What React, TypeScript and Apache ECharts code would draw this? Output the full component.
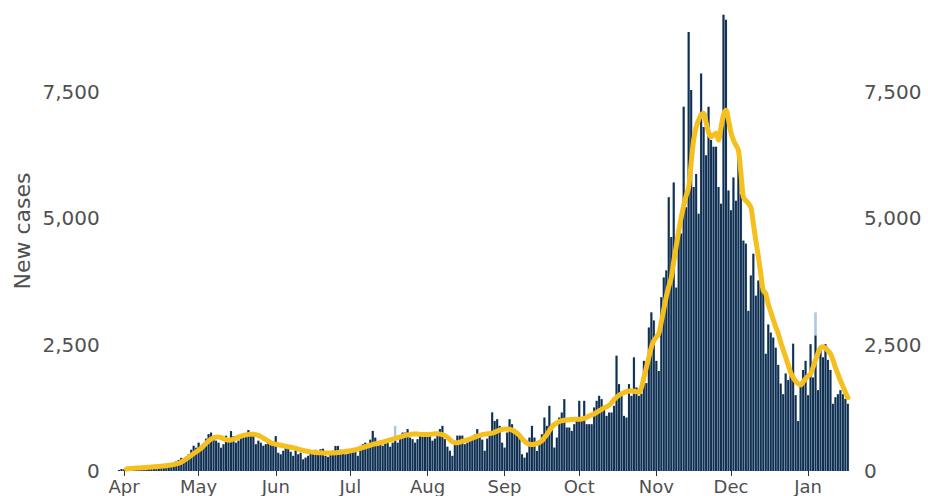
import React, { useEffect, useRef } from "react";
import * as echarts from "echarts";

// ---- categories ----
const START_DATE = "2020-03-30";
const DAY_COUNT = 294;
const monthNames = ["Jan", "Feb", "Mar", "Apr", "May", "Jun", "Jul", "Aug", "Sep", "Oct", "Nov", "Dec"];
const yTickValues = [0, 2500, 5000, 7500];

// ---- daily new cases (dark bars) ----
const casesMar = [20, 40];
const casesApr = [30, 50, 20, 40, 60, 40, 50, 60, 70, 50, 80, 90, 70, 100, 90, 110, 100, 120, 130, 110, 160, 190, 220, 260, 230, 280, 330, 420, 500, 460];
const casesMay = [560, 460, 520, 640, 730, 760, 660, 600, 560, 460, 530, 700, 620, 790, 690, 560, 600, 660, 730, 700, 810, 730, 760, 530, 600, 560, 500, 530, 620, 580, 580];
const casesJun = [690, 360, 330, 400, 520, 450, 380, 300, 420, 330, 360, 230, 264, 300, 364, 380, 420, 330, 430, 440, 300, 280, 350, 400, 496, 496, 420, 364, 330, 340];
const casesJul = [364, 397, 380, 300, 420, 530, 560, 500, 620, 794, 660, 496, 530, 500, 630, 600, 480, 560, 630, 560, 640, 760, 760, 830, 660, 630, 560, 630, 700, 690, 730];
const casesAug = [730, 700, 600, 640, 720, 830, 893, 630, 480, 400, 300, 520, 700, 700, 700, 530, 560, 600, 640, 720, 830, 700, 620, 400, 640, 760, 1160, 990, 1025, 893, 560];
const casesSep = [463, 760, 1025, 926, 827, 694, 728, 331, 264, 364, 661, 893, 661, 397, 595, 728, 1058, 893, 1290, 893, 463, 661, 1058, 1157, 1422, 860, 860, 793, 926, 1000];
const casesOct = [1389, 1025, 1389, 926, 926, 926, 1257, 1389, 1488, 1422, 1257, 1091, 1157, 1157, 1290, 2282, 1720, 1554, 1091, 1058, 1720, 1488, 2249, 1653, 1488, 1530, 2180, 1740, 2840, 3140, 2980];
const casesNov = [2180, 1980, 3440, 3830, 3970, 5420, 4630, 5710, 3630, 4820, 4700, 7210, 5220, 8690, 7540, 5620, 5880, 5090, 7870, 6810, 6250, 7210, 6550, 6420, 6420, 5620, 5290, 9030, 8930, 5550];
const casesDec = [5160, 5810, 5350, 6310, 5480, 4560, 4500, 3170, 3870, 4300, 3470, 3770, 4070, 3530, 2320, 2900, 2740, 2640, 2440, 2100, 1730, 1520, 1930, 1800, 2000, 2520, 1500, 990, 1700, 2000, 2180];
const casesJan = [1500, 2510, 1850, 2680, 1600, 2380, 2250, 2510, 2200, 2000, 1330, 1460, 1520, 1600, 1520, 1430, 1330];

// ---- days where the lighter (total) bar is taller than the dark bar ----
const lightDates = ["2020-07-19", "2021-01-04"];
const lightTotals = [893, 3140];

// ---- 7-day average (yellow line) ----
const avgMar = [null, null];
const avgApr = [null, 40, 45, 50, 55, 58, 60, 63, 66, 70, 74, 78, 82, 86, 90, 95, 100, 106, 112, 120, 130, 140, 155, 175, 205, 240, 275, 310, 345, 380];
const avgMay = [415, 450, 500, 550, 595, 630, 655, 670, 675, 660, 640, 620, 610, 615, 630, 650, 670, 690, 705, 715, 725, 727, 727, 720, 705, 680, 650, 620, 590, 560, 540];
const avgJun = [530, 520, 510, 500, 490, 480, 470, 460, 450, 435, 420, 408, 397, 387, 378, 372, 366, 362, 360, 358, 357, 356, 356, 357, 360, 365, 372, 380, 388, 396];
const avgJul = [400, 410, 420, 435, 450, 465, 480, 495, 510, 525, 540, 550, 560, 570, 585, 600, 615, 630, 645, 660, 675, 690, 705, 715, 725, 730, 730, 730, 725, 722, 720];
const avgAug = [720, 725, 730, 735, 735, 730, 720, 700, 670, 620, 580, 560, 560, 570, 590, 600, 615, 630, 650, 670, 690, 705, 720, 730, 735, 740, 750, 770, 790, 810, 820];
const avgSep = [830, 830, 825, 810, 780, 750, 700, 640, 590, 550, 530, 525, 530, 545, 565, 600, 660, 720, 800, 870, 920, 950, 980, 995, 1005, 1010, 1015, 1020, 1025, 1025];
const avgOct = [1025, 1030, 1040, 1060, 1090, 1110, 1130, 1160, 1190, 1220, 1250, 1270, 1300, 1350, 1410, 1460, 1500, 1530, 1550, 1570, 1580, 1590, 1580, 1570, 1560, 1650, 1850, 2050, 2250, 2450, 2580];
const avgNov = [2650, 2720, 2950, 3200, 3450, 3650, 3830, 4150, 4450, 4750, 5020, 5250, 5450, 5610, 6100, 6550, 6800, 6950, 7050, 7080, 6900, 6700, 6610, 6650, 6690, 6550, 6800, 7050, 7140, 6950];
const avgDec = [6700, 6550, 6450, 6350, 5900, 5420, 5350, 5300, 5220, 4900, 4560, 4250, 3900, 3570, 3510, 3300, 3150, 3000, 2850, 2720, 2550, 2400, 2250, 2100, 1950, 1850, 1780, 1730, 1700, 1760, 1830];
const avgJan = [1880, 1920, 2050, 2200, 2330, 2440, 2460, 2430, 2380, 2320, 2200, 2050, 1920, 1790, 1680, 1560, 1450];

const NAVY = "#132f4e";
const LIGHT = "#a9c6e6";
const YELLOW = "#f5bf1e";
const LABEL = "#505050";
const FONT = "DejaVu Sans";

function buildDates(): string[] {
  const [y, m, d] = START_DATE.split("-").map(Number);
  const out: string[] = [];
  for (let i = 0; i < DAY_COUNT; i++) {
    const dt = new Date(Date.UTC(y, m - 1, d + i));
    const mm = String(dt.getUTCMonth() + 1).padStart(2, "0");
    const dd = String(dt.getUTCDate()).padStart(2, "0");
    out.push(`${dt.getUTCFullYear()}-${mm}-${dd}`);
  }
  return out;
}

export default function App() {
  const ref = useRef<HTMLDivElement>(null);

  useEffect(() => {
    if (!ref.current) return;
    const chart = echarts.init(ref.current, undefined, { renderer: "svg" });

    const dates = buildDates();
    const cases = [
      ...casesMar, ...casesApr, ...casesMay, ...casesJun, ...casesJul, ...casesAug,
      ...casesSep, ...casesOct, ...casesNov, ...casesDec, ...casesJan,
    ];
    const avg = [
      ...avgMar, ...avgApr, ...avgMay, ...avgJun, ...avgJul, ...avgAug,
      ...avgSep, ...avgOct, ...avgNov, ...avgDec, ...avgJan,
    ];
    const totals = cases.map((v, i) => {
      const k = lightDates.indexOf(dates[i]);
      return k >= 0 ? Math.max(v, lightTotals[k]) : v;
    });

    const isMonthStart = (_i: number, v: string) => typeof v === "string" && v.endsWith("-01");
    const monthLabel = (v: string) => monthNames[Number(v.slice(5, 7)) - 1];
    const yFmt = (v: number) => (yTickValues.includes(v) ? v.toLocaleString("en-US") : "");

    const yCommon = {
      type: "value" as const,
      min: 0,
      max: 9200,
      interval: 2500,
      splitLine: { show: false },
      axisLine: { show: false },
      axisTick: { show: false },
    };

    chart.setOption({
      animation: false,
      backgroundColor: "#ffffff",
      grid: { left: 117.8, right: 78.9, top: 6.2, bottom: 25 },
      xAxis: [
        {
          type: "category",
          data: dates,
          boundaryGap: true,
          axisLine: { show: false },
          axisTick: {
            show: true,
            interval: isMonthStart,
            alignWithLabel: true,
            length: 5,
            lineStyle: { color: "#333333", width: 1 },
          },
          axisLabel: {
            interval: isMonthStart,
            formatter: monthLabel,
            color: LABEL,
            fontFamily: FONT,
            fontSize: 18,
            lineHeight: 18,
            margin: 6,
          },
          splitLine: { show: false },
        },
        {
          type: "category",
          data: dates,
          boundaryGap: true,
          show: false,
        },
      ],
      yAxis: [
        {
          ...yCommon,
          position: "left",
          axisLabel: { formatter: yFmt, color: LABEL, fontFamily: FONT, fontSize: 20, margin: 18 },
        },
        {
          ...yCommon,
          position: "right",
          axisLabel: { formatter: yFmt, color: LABEL, fontFamily: FONT, fontSize: 20, margin: 15 },
        },
      ],
      series: [
        {
          name: "Total",
          type: "bar",
          xAxisIndex: 1,
          yAxisIndex: 0,
          data: totals,
          barWidth: "100%",
          itemStyle: { color: LIGHT },
          silent: true,
          z: 1,
        },
        {
          name: "New cases",
          type: "bar",
          xAxisIndex: 0,
          yAxisIndex: 0,
          data: cases,
          barWidth: "80%",
          itemStyle: { color: NAVY },
          silent: true,
          z: 2,
        },
        {
          name: "7-day average",
          type: "line",
          xAxisIndex: 0,
          yAxisIndex: 0,
          data: avg,
          showSymbol: false,
          smooth: 0.3,
          lineStyle: { color: YELLOW, width: 5, cap: "round", join: "round" },
          z: 5,
        },
      ],
      graphic: [
        {
          type: "text",
          x: 22,
          y: 231,
          rotation: Math.PI / 2,
          style: {
            text: "New cases",
            fill: LABEL,
            fontFamily: FONT,
            fontSize: 22,
            textAlign: "center",
            textVerticalAlign: "middle",
            align: "center",
            verticalAlign: "middle",
          },
        },
      ],
    });

    return () => chart.dispose();
  }, []);

  return (
    <div
      ref={ref}
      style={{ position: "absolute", left: 0, top: 0, width: 928, height: 496, background: "#fff" }}
    />
  );
}
